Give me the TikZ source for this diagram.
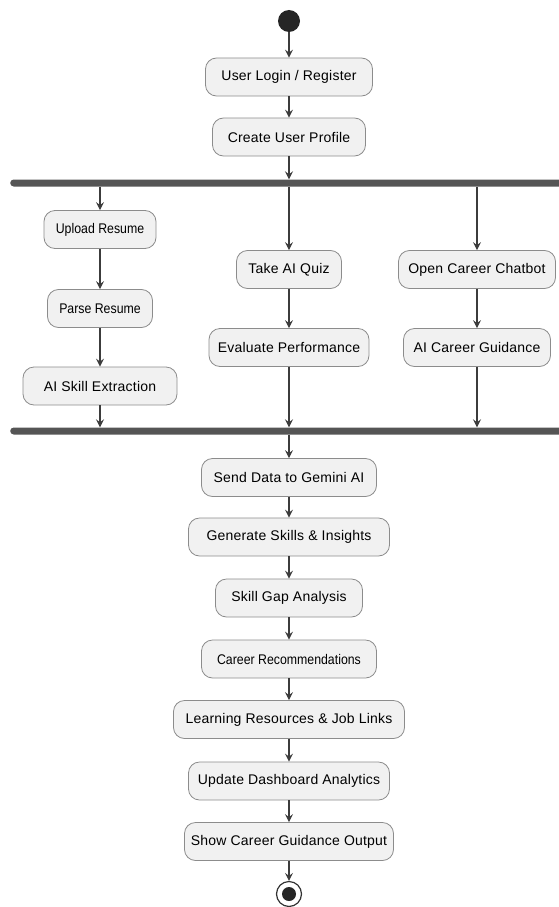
\documentclass[tikz,border=0pt]{standalone}
\usepackage{fontspec}
\setmainfont{Liberation Sans}
\usetikzlibrary{arrows.meta}
\definecolor{actfill}{HTML}{F1F1F1}
\definecolor{actline}{HTML}{8C8C8C}
\definecolor{barfill}{HTML}{555555}
\definecolor{flowline}{HTML}{3C3C3C}

\begin{document}
\begin{tikzpicture}[x=1pt,y=-1pt,every path/.style={>={Stealth[length=8pt,width=8pt,inset=3pt]}},
  act/.style={draw=actline,fill=actfill,line width=0.8pt,rounded corners=11pt,minimum height=38pt,inner xsep=4pt,
    font=\fontsize{14}{16}\selectfont\addfontfeature{LetterSpace=1.5}},
  narrow/.style={font=\fontsize{14}{16}\selectfont\addfontfeature{FakeStretch=0.88}},
  bar/.style={fill=barfill,rounded corners=3.5pt,minimum height=7pt,inner sep=0pt,anchor=west},
  flow/.style={->,draw=flowline,line width=1.1pt},
  startdot/.style={circle,fill=black!85,minimum size=22pt,inner sep=0pt},
  endring/.style={circle,draw=black!80,line width=1.2pt,fill=white,minimum size=25pt,inner sep=0pt},
  enddot/.style={circle,fill=black!85,minimum size=14pt,inner sep=0pt}]
\useasboundingbox (0,0) rectangle (558,907);
\node[startdot]                       (init)     at (289,21)    {};
\node[act, minimum width=167pt]         (login)    at (289,77)    {User Login / Register};
\node[act, minimum width=153pt]         (profile)  at (289,137)   {Create User Profile};
\node[bar, minimum width=560pt]         (fork)     at (10,183)    {};
\node[act, narrow, minimum width=112pt] (upload)   at (100,229.5) {Upload Resume};
\node[act, narrow, minimum width=105pt] (parse)    at (100,308.5) {Parse Resume};
\node[act, minimum width=154pt]         (extract)  at (100,386)   {AI Skill Extraction};
\node[act, minimum width=105pt]         (quiz)     at (289,269.5) {Take AI Quiz};
\node[act, minimum width=160pt]         (evaluate) at (289,347.5) {Evaluate Performance};
\node[act, minimum width=157pt]         (chatbot)  at (477,269.5) {Open Career Chatbot};
\node[act, minimum width=147pt]         (guidance) at (477,347.5) {AI Career Guidance};
\node[bar, minimum width=560pt]         (join)     at (10,431)    {};
\node[act, minimum width=175pt]         (send)     at (289,477.5) {Send Data to Gemini AI};
\node[act, minimum width=201pt]         (insights) at (289,537)   {Generate Skills \& Insights};
\node[act, minimum width=147pt]         (gap)      at (289,598)   {Skill Gap Analysis};
\node[act, narrow, minimum width=175pt] (recommend) at (289,659)  {Career Recommendations};
\node[act, minimum width=231pt]         (learning) at (289,719.5) {Learning Resources \& Job Links};
\node[act, minimum width=201pt]         (dashboard) at (289,781)  {Update Dashboard Analytics};
\node[act, minimum width=209pt]         (output)   at (289,841.5) {Show Career Guidance Output};
\node[endring]                        (final)    at (289,894)   {};
\node[enddot]                         (finaldot) at (final)     {};
\draw[flow] (init) -- (login);
\draw[flow] (login) -- (profile);
\draw[flow] (profile) -- (fork.north -| profile);
\draw[flow] (fork.south -| upload) -- (upload);
\draw[flow] (upload) -- (parse);
\draw[flow] (parse) -- (extract);
\draw[flow] (extract) -- (join.north -| extract);
\draw[flow] (fork.south -| quiz) -- (quiz);
\draw[flow] (quiz) -- (evaluate);
\draw[flow] (evaluate) -- (join.north -| evaluate);
\draw[flow] (fork.south -| chatbot) -- (chatbot);
\draw[flow] (chatbot) -- (guidance);
\draw[flow] (guidance) -- (join.north -| guidance);
\draw[flow] (join.south -| send) -- (send);
\draw[flow] (send) -- (insights);
\draw[flow] (insights) -- (gap);
\draw[flow] (gap) -- (recommend);
\draw[flow] (recommend) -- (learning);
\draw[flow] (learning) -- (dashboard);
\draw[flow] (dashboard) -- (output);
\draw[flow] (output) -- (final);
\end{tikzpicture}
\end{document}
